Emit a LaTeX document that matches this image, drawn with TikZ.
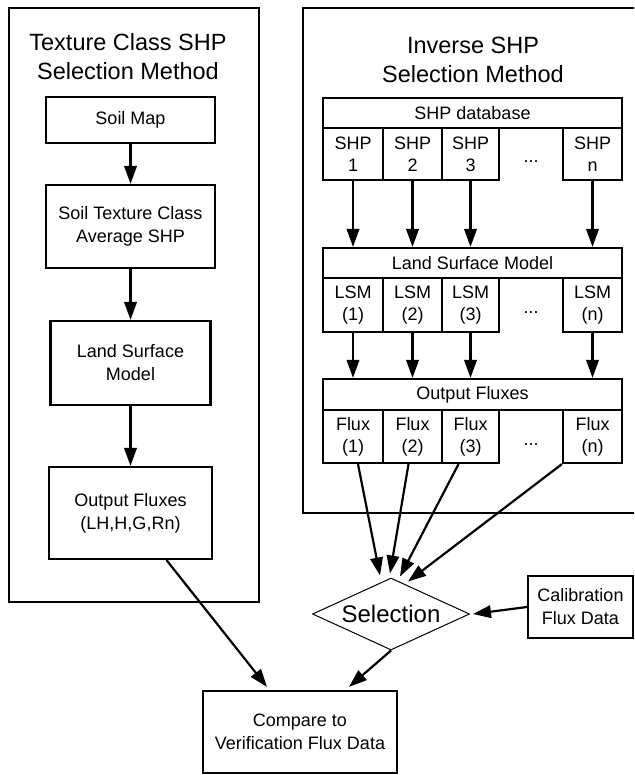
\documentclass[tikz,border=0pt]{standalone}
\usepackage{fontspec}
\setmainfont{Liberation Sans}
\usetikzlibrary{arrows.meta,shapes.geometric,calc}
\newcommand\mktbl[8]{%
  \node[cell, minimum width=299pt, minimum height=#3pt] (#1h) at (472.5,{#2+#3/2}) {#5};
  \pgfmathsetmacro\cy{#2+#3+#4/2}
  \node[cell, minimum width=60pt, minimum height=#4pt] (#11) at (353,\cy) {#6\\#71#8};
  \node[cell, minimum width=59pt, minimum height=#4pt] (#12) at (412.5,\cy) {#6\\#72#8};
  \node[cell, minimum width=57pt, minimum height=#4pt] (#13) at (470.5,\cy) {#6\\#73#8};
  \node[cell, minimum width=59pt, minimum height=#4pt] (#1n) at (592.5,\cy) {#6\\#7n#8};
  \node[txt] (#1d) at (531,{\cy+8}) {...};
}
\begin{document}
\begin{tikzpicture}[x=1pt,y=-1pt,
  box/.style={draw, line width=2.2pt, inner sep=0pt, align=center, font=\fontsize{18}{23}\selectfont},
  cell/.style={draw, line width=2.2pt, inner sep=0pt, align=center, font=\fontsize{18}{22}\selectfont},
  txt/.style={inner sep=0pt, font=\fontsize{18}{22}\selectfont},
  arr/.style={line width=2.2pt, -{Triangle[length=18pt,width=12.5pt]}},
  ttl/.style={align=center, inner sep=0pt, font=\fontsize{23.5}{29}\selectfont},
  frame/.style={draw, line width=2.4pt}]
\useasboundingbox (0,0) rectangle (634,775);
\clip (0,0) rectangle (634,775);

% outer frames
\draw[frame] (9,8) rectangle (259,602);
\draw[frame] (645,8) -- (303,8) -- (303,513) -- (645,513);

% titles
\node[ttl] (tl) at (128,57) {Texture Class SHP\\Selection Method};
\node[ttl] (tr) at (473,60) {Inverse SHP\\Selection Method};

% left column
\node[box, minimum width=169pt, minimum height=46pt] (soil) at (130.5,120) {Soil Map};
\node[box, minimum width=169pt, minimum height=83pt] (tex) at (130.5,226.5) {Soil Texture Class\\Average SHP};
\node[box, minimum width=160pt, minimum height=84pt] (lsm) at (130.5,363) {Land Surface\\Model};
\node[box, minimum width=163pt, minimum height=92pt] (out) at (130.5,513) {Output Fluxes\\(LH,H,G,Rn)};

\draw[arr] (soil.south) -- (tex.north);
\draw[arr] (tex.south) -- (lsm.north);
\draw[arr] (lsm.south) -- (out.north);

% right tables
\mktbl{shp}{98}{30}{52}{SHP database}{SHP}{}{}
\mktbl{lsm}{248}{30}{54}{Land Surface Model}{LSM}{(}{)}
\mktbl{flux}{379}{31}{53}{Output Fluxes}{Flux}{(}{)}

\foreach \i in {1,2,3,n} {
  \draw[arr] (shp\i.south) -- (shp\i.south |- lsmh.north);
  \draw[arr] (lsm\i.south) -- (lsm\i.south |- fluxh.north);
}

% selection, calibration, compare
\node[draw, line width=1pt, diamond, shape aspect=2.18, minimum width=157pt, minimum height=72pt, inner sep=0pt,
      font=\fontsize{24}{28}\selectfont] (sel) at (391,614) {Selection};
\node[box, minimum width=105pt, minimum height=62pt] (cal) at (580.5,607) {Calibration\\Flux Data};
\node[box, minimum width=194pt, minimum height=82pt] (cmp) at (300,732) {Compare to\\Verification Flux Data};

\draw[arr] ([xshift=5pt]flux1.south) -- ($(sel.north)+(-11,-2)$);
\draw[arr] ([xshift=-4pt]flux2.south) -- ($(sel.north)+(-1,-4)$);
\draw[arr] ([xshift=-12pt]flux3.south) -- ($(sel.north)+(9,-1)$);
\draw[arr] (fluxn.south west) -- ($(sel.north)+(17,4)$);
\draw[arr] (cal.west) -- ($(sel.east)+(3,0)$);
\draw[arr] ($(out.south)+(36,0)$) -- ($(cmp.north)+(-33,-3)$);
\draw[arr] (sel.south) -- ($(cmp.north)+(49,-3)$);
\end{tikzpicture}
\end{document}
